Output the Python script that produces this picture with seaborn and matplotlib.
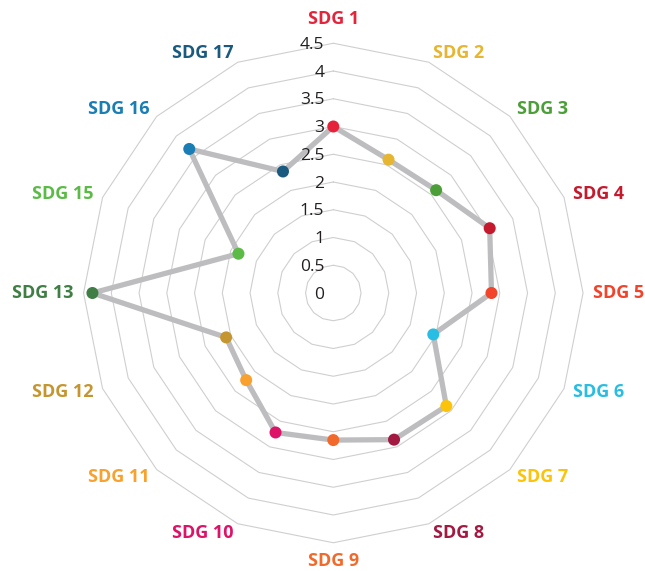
import numpy as np
import pandas as pd
import seaborn as sns
import matplotlib.pyplot as plt

# SDG scores (SDG 14 is not in the chart)
labels = ["SDG 1", "SDG 2", "SDG 3", "SDG 4", "SDG 5", "SDG 6", "SDG 7", "SDG 8",
          "SDG 9", "SDG 10", "SDG 11", "SDG 12", "SDG 13", "SDG 15", "SDG 16", "SDG 17"]
scores = [3.0, 2.6, 2.62, 3.05, 2.85, 1.95, 2.88, 2.86,
          2.65, 2.72, 2.22, 2.09, 4.34, 1.85, 3.67, 2.37]
colors = ["#e5243b", "#e6b632", "#4c9f38", "#c5192d", "#f2432b", "#28bde2", "#fcc30b", "#a21942",
          "#f26a2b", "#dd1367", "#f9a12e", "#c5962f", "#3f7e44", "#5bbb46", "#1a7db3", "#1b5a7f"]
ticks = [0, 0.5, 1, 1.5, 2, 2.5, 3, 3.5, 4, 4.5]
tick_labels = ["0", "0.5", "1", "1.5", "2", "2.5", "3", "3.5", "4", "4.5"]

sns.set_theme(style="white")
plt.rcParams["font.family"] = ["Open Sans", "DejaVu Sans"]

n = len(labels)
angles = np.linspace(0, 2 * np.pi, n, endpoint=False)
df = pd.DataFrame({"angle": angles, "score": scores, "sdg": labels})
closed = pd.concat([df, df.iloc[:1]], ignore_index=True)

fig = plt.figure(figsize=(6.45, 5.71), dpi=100)
ax = fig.add_axes([55.8 / 645, 0.5 / 571, 555 / 645, 555 / 571], projection="polar")
ax.set_theta_zero_location("N")
ax.set_theta_direction(-1)

# polygon grid rings
for t in ticks[1:]:
    ax.plot(np.append(angles, angles[0]), [t] * (n + 1), color="#cfcfcf", lw=0.8, zorder=1)

sns.lineplot(data=closed, x="angle", y="score", sort=False, estimator=None,
             color="#bdbdc0", lw=3.8, ax=ax, zorder=2)
sns.scatterplot(data=df, x="angle", y="score", hue="sdg", palette=dict(zip(labels, colors)),
                s=75, linewidth=0, legend=False, ax=ax, zorder=3)

ax.set_ylim(0, 5)
ax.set_xticks([])
ax.set_yticks([])
ax.set_xlabel("")
ax.set_ylabel("")
ax.grid(False)
ax.spines["polar"].set_visible(False)

for t, tl in zip(ticks, tick_labels):
    ax.annotate(tl, xy=(0, t), xytext=(-6.5, -1.2), textcoords="offset points",
                ha="right", va="center", fontsize=12.5, color="#231f20")

for ang, lab, col in zip(angles, labels, colors):
    s, c = np.sin(ang), np.cos(ang)
    if abs(s) < 0.01:
        ha = "center"
        r = 4.93 if c > 0 else 4.82
    else:
        ha = "left" if s > 0 else "right"
        r = 4.68
    ax.text(ang, r, lab, ha=ha, va="center", fontsize=13, fontweight="bold", color=col)

fig.savefig("out.png", dpi=100)
